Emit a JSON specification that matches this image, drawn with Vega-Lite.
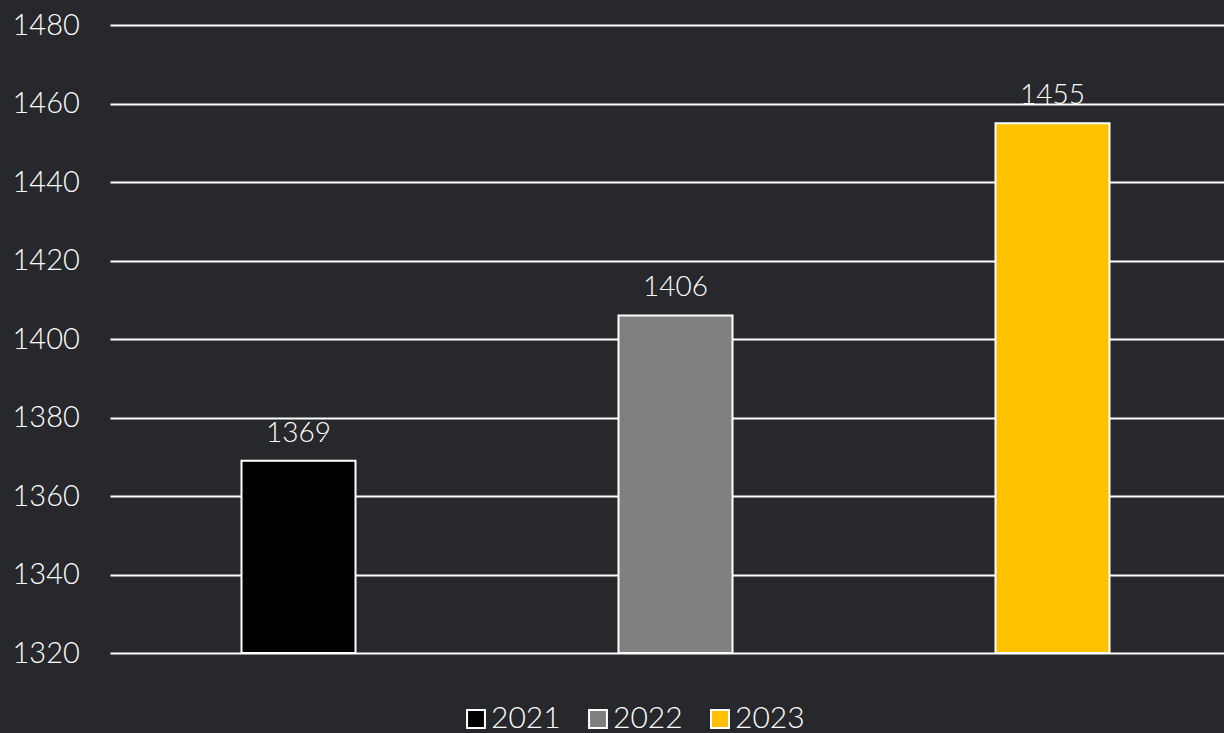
{
  "$schema": "https://vega.github.io/schema/vega-lite/v6.json",
  "autosize": "none",
  "width": 1131,
  "height": 628,
  "padding": {"left": 110, "top": 25, "right": 0, "bottom": 80},
  "background": "#27282b",
  "config": {
    "view": {"stroke": null},
    "font": "Lato",
    "text": {"font": "Lato"}
  },
  "data": {
    "values": [
      {"year": "2021", "value": 1369},
      {"year": "2022", "value": 1406},
      {"year": "2023", "value": 1455}
    ]
  },
  "encoding": {
    "x": {"field": "year", "type": "nominal", "scale": {"paddingInner": 0, "paddingOuter": 0}, "axis": null},
    "y": {
      "field": "value", "type": "quantitative",
      "scale": {"domain": [1320, 1480], "zero": false, "nice": false},
      "axis": {
        "title": null, "values": [1320,1340,1360,1380,1400,1420,1440,1460,1480],
        "format": "d", "labelOverlap": false,
        "domain": false, "ticks": false, "tickSize": 0,
        "labelPadding": 98, "labelAlign": "left", "labelBaseline": "middle",
        "labelFontSize": 29, "labelColor": "#ffffff", "labelFont": "Lato", "labelFontWeight": 300,
        "grid": true, "gridColor": "#ffffff", "gridWidth": 2, "gridOpacity": 1
      }
    }
  },
  "layer": [
    {
      "mark": {"type": "bar", "width": 114, "stroke": "#ffffff", "strokeWidth": 2},
      "encoding": {
        "y2": {"datum": 1320},
        "color": {
          "field": "year", "type": "nominal",
          "scale": {"domain": ["2021", "2022", "2023"], "range": ["#000000", "#7f7f7f", "#ffc000"]},
          "legend": {
            "orient": "none", "legendX": 351, "legendY": 679, "direction": "horizontal",
            "title": null, "symbolType": "square", "symbolSize": 320,
            "symbolStrokeColor": "#ffffff", "symbolStrokeWidth": 2,
            "labelFontSize": 30, "labelColor": "#ffffff", "labelFont": "Lato", "labelFontWeight": 300,
            "columnPadding": 22, "labelOffset": 0
          }
        }
      }
    },
    {
      "mark": {"type": "text", "baseline": "alphabetic", "dy": -19, "fontSize": 28, "color": "#ffffff", "font": "Lato", "fontWeight": 300},
      "encoding": {"text": {"field": "value", "type": "quantitative", "format": "d"}}
    }
  ]
}
